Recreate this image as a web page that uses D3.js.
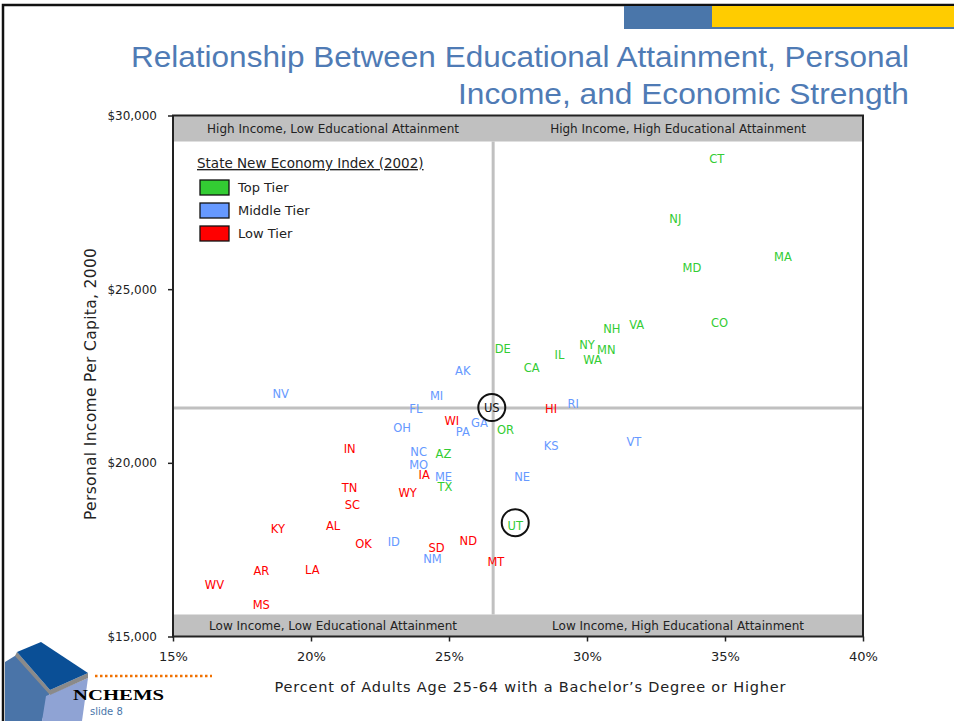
<!DOCTYPE html>
<html><head><meta charset="utf-8">
<script src="https://cdn.jsdelivr.net/npm/d3@7/dist/d3.min.js"></script>
<style>body{margin:0;background:#fff}svg{display:block}</style>
</head><body>
<svg id="c" width="954" height="721"></svg>
<script>
// ---------- data ----------
const states = ["CT","NJ","MA","MD","CO","VA","NH","NY","MN","WA","IL","DE","CA","AK","NV","MI","FL","US","HI","RI","WI","GA","PA","OH","OR","KS","VT","IN","NC","AZ","MO","IA","ME","NE","TX","TN","WY","SC","UT","KY","AL","OK","ID","SD","ND","NM","MT","AR","LA","WV","MS"];
const tiers = ["top","top","top","top","top","top","top","top","top","top","top","top","top","middle","middle","middle","middle","us","low","middle","low","middle","middle","middle","top","middle","middle","low","middle","top","middle","low","middle","middle","top","low","low","low","top","low","low","low","middle","low","low","middle","low","low","low","low","low"];
const eduPct = [34.7,33.2,37.1,33.8,34.8,31.8,30.9,30.0,30.7,30.2,29.0,26.95,28.0,25.5,18.9,24.55,23.8,26.55,28.7,29.5,25.1,26.1,25.5,23.3,27.05,28.7,31.7,21.4,23.9,24.8,23.9,24.1,24.8,27.65,24.85,21.4,23.5,21.5,27.4,18.8,20.8,21.9,23.0,24.55,25.7,24.4,26.7,18.2,20.05,16.5,18.2];
const income = [28750,27010,25935,25620,24030,23970,23860,23400,23255,22970,23115,23285,22740,22645,21980,21935,21540,21590,21540,21685,21215,21155,20895,21005,20945,20495,20610,20400,20320,20265,19940,19660,19590,19600,19315,19285,19130,18795,18190,18105,18190,17655,17720,17555,17750,17240,17155,16885,16915,16485,15905];
const xTicks = [15,20,25,30,35,40];
const yTicks = [15000,20000,25000,30000];
const tierKeys = ["top","middle","low"];
const tierNames = ["Top Tier","Middle Tier","Low Tier"];
const legendTitle = "State New Economy Index (2002)";
const quadrantTop = ["High Income, Low Educational Attainment","High Income, High Educational Attainment"];
const quadrantBottom = ["Low Income, Low Educational Attainment","Low Income, High Educational Attainment"];
const refEdu = 26.6, refIncome = 21580;
const circled = ["US","UT"];
const titleLines = ["Relationship Between Educational Attainment, Personal","Income, and Economic Strength"];
const xTitle = "Percent of Adults Age 25-64 with a Bachelor\u2019s Degree or Higher";
const yTitle = "Personal Income Per Capita, 2000";

// ---------- styles ----------
const colors = {top:"#33cc33", middle:"#6699ff", low:"#ff0000", us:"#111"};
const FONT = "'DejaVu Sans', Verdana, sans-serif";
const svg = d3.select("#c");

// ---------- slide decorations ----------
svg.append("path").attr("d","M3,721V5H954").attr("fill","none").attr("stroke","#111").attr("stroke-width",2.5);
svg.append("rect").attr("x",624).attr("y",6).attr("width",88).attr("height",23).attr("fill","#4a76aa");
svg.append("rect").attr("x",712).attr("y",6).attr("width",242).attr("height",23).attr("fill","#4a76aa");
svg.append("rect").attr("x",712).attr("y",6).attr("width",242).attr("height",21).attr("fill","#ffcc00");

// title
titleLines.forEach((t,i)=>{
  svg.append("text").attr("x",909).attr("y",[67,104][i]).attr("text-anchor","end")
    .attr("font-family","'Liberation Sans', Arial, sans-serif").attr("font-size",30)
    .attr("fill","#4f7bb5").attr("textLength",[778,451][i]).attr("lengthAdjust","spacingAndGlyphs").text(t);
});

// ---------- scales ----------
const x = d3.scaleLinear().domain([15,40]).range([173,863]);
const y = d3.scaleLinear().domain([15000,30000]).range([636.5,115.5]);
const [x0,x1] = x.range(); const [y0,y1] = y.range();

// quadrant bands
svg.append("rect").attr("x",x0).attr("y",y1).attr("width",x1-x0).attr("height",26).attr("fill","#c0c0c0");
svg.append("rect").attr("x",x0).attr("y",y0-22).attr("width",x1-x0).attr("height",22).attr("fill","#c0c0c0");
const xm = x(refEdu), ym = y(refIncome);
[[ (x0+xm)/2, quadrantTop[0] ], [ (xm+x1)/2, quadrantTop[1] ]].forEach(([cx,t])=>{
  svg.append("text").attr("x",cx).attr("y",y1+17).attr("text-anchor","middle").attr("font-family",FONT).attr("font-size",12).attr("fill","#222").text(t);
});
[[ (x0+xm)/2, quadrantBottom[0] ], [ (xm+x1)/2, quadrantBottom[1] ]].forEach(([cx,t])=>{
  svg.append("text").attr("x",cx).attr("y",y0-7).attr("text-anchor","middle").attr("font-family",FONT).attr("font-size",12).attr("fill","#222").text(t);
});

// reference lines
svg.append("line").attr("x1",xm).attr("x2",xm).attr("y1",y1+26).attr("y2",y0-22).attr("stroke","#c0c0c0").attr("stroke-width",3);
svg.append("line").attr("x1",x0).attr("x2",x1).attr("y1",ym).attr("y2",ym).attr("stroke","#c0c0c0").attr("stroke-width",3);

// frame
svg.append("rect").attr("x",x0).attr("y",y1).attr("width",x1-x0).attr("height",y0-y1).attr("fill","none").attr("stroke","#222").attr("stroke-width",2);

// axes
const xAxis = svg.append("g").attr("transform",`translate(0,${y0})`)
  .call(d3.axisBottom(x).tickValues(xTicks).tickSize(5).tickPadding(10).tickFormat(d=>d+"%"));
xAxis.select(".domain").remove();
xAxis.selectAll("line").attr("stroke","#222").attr("stroke-width",1.5);
xAxis.selectAll("text").attr("font-family",FONT).attr("font-size",13).attr("fill","#222");
const yAxis = svg.append("g").attr("transform",`translate(${x0},0)`)
  .call(d3.axisLeft(y).tickValues(yTicks).tickSize(5).tickPadding(11).tickFormat(d=>"$"+d3.format(",")(d)));
yAxis.select(".domain").remove();
yAxis.selectAll("line").attr("stroke","#222").attr("stroke-width",1.5);
yAxis.selectAll("text").attr("font-family",FONT).attr("font-size",12).attr("fill","#222");

// axis titles
svg.append("text").attr("x",530).attr("y",692).attr("text-anchor","middle").attr("font-family",FONT)
  .attr("font-size",14.5).attr("fill","#222").attr("textLength",511).text(xTitle);
svg.append("text").attr("transform","translate(96,384) rotate(-90)").attr("text-anchor","middle").attr("font-family",FONT)
  .attr("font-size",15.5).attr("fill","#222").attr("textLength",272).text(yTitle);

// legend
svg.append("text").attr("x",197).attr("y",168).attr("font-family",FONT).attr("font-size",13.5).attr("fill","#222")
  .attr("text-decoration","underline").text(legendTitle);
tierKeys.forEach((k,i)=>{
  const ly = 187 + i*23;
  svg.append("rect").attr("x",200).attr("y",ly-7).attr("width",29).attr("height",15).attr("fill",colors[k]).attr("stroke","#111").attr("stroke-width",1.3);
  svg.append("text").attr("x",238).attr("y",ly+5).attr("font-family",FONT).attr("font-size",13).attr("fill","#222").text(tierNames[i]);
});

// state labels
const data = states.map((s,i)=>({s, t:tiers[i], e:eduPct[i], v:income[i]}));
svg.append("g").selectAll("text").data(data).join("text")
  .attr("x",d=>x(d.e)).attr("y",d=>y(d.v)).attr("dy","0.36em").attr("text-anchor","middle")
  .attr("font-family",FONT).attr("font-size",11.5).attr("fill",d=>colors[d.t]).text(d=>d.s);

// circled callouts
data.filter(d=>circled.includes(d.s)).forEach(d=>{
  svg.append("circle").attr("cx",x(d.e)).attr("cy",y(d.v)-(d.s==="UT"?3:0)).attr("r",13.5)
    .attr("fill","none").attr("stroke","#111").attr("stroke-width",2);
});

// ---------- logo ----------
const logo = svg.append("g");
logo.append("polygon").attr("points","5,662 18,654 50,692 42,721 5,721").attr("fill","#4a74a8");
logo.append("polygon").attr("points","46,696 88,678 82,721 42,721").attr("fill","#8fa3d4");
logo.append("polygon").attr("points","17,652 50,690 88,673 88,678 50,695 15,656").attr("fill","#8a8a8a");
logo.append("polygon").attr("points","17,652 41,642 88,673 50,690").attr("fill","#0a4f96");
logo.append("line").attr("x1",95).attr("x2",212).attr("y1",676).attr("y2",676).attr("stroke","#f07000").attr("stroke-width",2.5).attr("stroke-dasharray","2.5,2.5");
logo.append("text").attr("x",73).attr("y",700).attr("font-family","'Liberation Serif', 'Times New Roman', serif").attr("font-weight","bold")
  .attr("font-size",15).attr("fill","#000").attr("textLength",91).attr("lengthAdjust","spacingAndGlyphs").text("NCHEMS");
logo.append("text").attr("x",90).attr("y",715).attr("font-family",FONT).attr("font-size",10).attr("fill","#4a76aa").text("slide 8");
</script>
</body></html>
